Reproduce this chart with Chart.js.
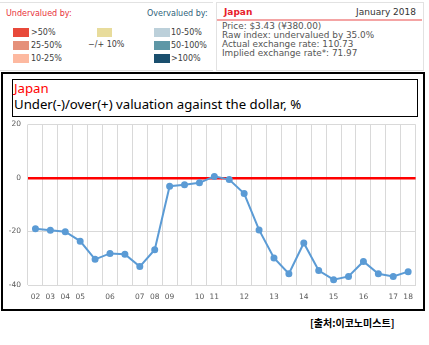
<!DOCTYPE html>
<html>
<head>
<meta charset="utf-8">
<script src="https://cdn.jsdelivr.net/npm/chart.js@4"></script>
<style>
  body { margin: 0; background: #fff; width: 429px; height: 345px; position: relative; overflow: hidden; font-family: "DejaVu Sans", sans-serif; }
  .abs { position: absolute; white-space: nowrap; }
  .sw { position: absolute; width: 16px; height: 9px; }
  .lg { position: absolute; font-size: 8px; color: #404040; line-height: 9px; }
  #legendPanel { left: 0px; top: 2px; width: 213px; height: 67px; border-top: 1px solid #e2e2e2; border-bottom: 1px solid #e2e2e2; }
  #infoPanel { left: 216px; top: 2px; width: 206px; height: 67px; border: 1px solid #e2e2e2; }
  #outer { left: 1px; top: 72px; width: 420px; height: 235px; border: 2px solid #000; }
  #titleBox { left: 12px; top: 79px; width: 404px; height: 36px; border: 1.5px solid #000; }
  #chartWrap { position: absolute; left: 3px; top: 113px; width: 418px; height: 192px; }
</style>
</head>
<body>
<div id="legendPanel" class="abs"></div>
<div class="abs" style="left:6px;top:9px;font-size:8px;color:#e8303a;">Undervalued by:</div>
<div class="abs" style="left:147px;top:9px;font-size:8px;color:#2f5f7a;">Overvalued by:</div>

<div class="sw" style="left:13px;top:28px;background:#e8493a;"></div>
<div class="lg" style="left:31px;top:28px;">&gt;50%</div>
<div class="sw" style="left:13px;top:41px;background:#e5907a;"></div>
<div class="lg" style="left:31px;top:41px;">25-50%</div>
<div class="sw" style="left:13px;top:54px;background:#fdb9a0;"></div>
<div class="lg" style="left:31px;top:54px;">10-25%</div>

<div class="sw" style="left:97px;top:28px;width:15px;background:#e8dc9c;"></div>
<div class="lg" style="left:88px;top:40px;">−/+ 10%</div>

<div class="sw" style="left:154px;top:28px;background:#bcd0da;"></div>
<div class="lg" style="left:171px;top:28px;">10-50%</div>
<div class="sw" style="left:154px;top:41px;background:#5e97a6;"></div>
<div class="lg" style="left:171px;top:41px;">50-100%</div>
<div class="sw" style="left:154px;top:54px;background:#1a4f6e;"></div>
<div class="lg" style="left:171px;top:54px;">&gt;100%</div>

<div id="infoPanel" class="abs"></div>
<div class="abs" style="left:224px;top:7px;font-size:9px;font-weight:bold;color:#e8202a;">Japan</div>
<div class="abs" style="left:320px;top:7px;width:96px;text-align:right;font-size:9px;color:#333;">January 2018</div>
<div class="abs" style="left:217px;top:19px;width:205px;height:2px;background:#f4a4a4;"></div>
<div class="abs" style="left:222px;top:22px;font-size:8.9px;line-height:8.9px;color:#555;">Price: $3.43 (¥380.00)<br>Raw index: undervalued by 35.0%<br>Actual exchange rate: 110.73<br>Implied exchange rate*: 71.97</div>

<div id="outer" class="abs"></div>
<div id="titleBox" class="abs"></div>
<div class="abs" style="left:14px;top:79px;font-family:'Noto Sans',sans-serif;font-size:13.2px;color:#ff0000;">Japan</div>
<div class="abs" style="left:14px;top:95px;font-family:'Noto Sans',sans-serif;font-size:13.2px;color:#000;">Under(-)/over(+) valuation against the dollar, %</div>

<div id="chartWrap"><canvas id="myChart"></canvas></div>

<div class="abs" style="left:310px;top:315px;font-family:'Noto Sans CJK KR',sans-serif;font-size:10px;font-weight:bold;color:#000;">[출처:이코노미스트]</div>

<script>
// categories (half-yearly from 2011, yearly before)
const periods = ['02', '03', '04', '05', '', '06', '', '07', '08', '09', '', '10', '11', '', '12', '', '13', '', '14', '', '15', '', '16', '', '17', '18'];
// raw index, % under(-)/over(+) valued against the dollar
const valuation = [-19.0, -19.5, -20.1, -23.6, -30.4, -28.2, -28.5, -33.1, -26.8, -3.1, -2.5, -1.8, 0.6, -0.6, -5.8, -19.4, -29.9, -35.8, -24.3, -34.6, -38.0, -36.8, -31.2, -35.8, -36.8, -35.0];
const yTicks = [20, 0, -20, -40];

const gridGray = '#d9d9d9';

const config = {
    type: 'line',
    data: {
        labels: periods,
        datasets: [{
            data: valuation,
            borderColor: '#5b9bd5',
            backgroundColor: '#5b9bd5',
            borderWidth: 2,
            pointRadius: 2.5,
            pointHoverRadius: 2.5,
            tension: 0
        }]
    },
    options: {
        responsive: true,
        maintainAspectRatio: false,
        animation: false,
        layout: { padding: { top: 6, right: 2, left: 0, bottom: 0 } },
        plugins: { legend: { display: false }, tooltip: { enabled: false } },
        scales: {
            x: {
                offset: true,
                grid: { offset: true, color: gridGray, drawTicks: false },
                border: { color: gridGray },
                ticks: {
                    autoSkip: false, maxRotation: 0, padding: 8,
                    color: '#595959', font: { family: 'DejaVu Sans', size: 7.5 }
                },
                afterFit: (scale) => { scale.height = 20; }
            },
            y: {
                min: -40, max: 20,
                afterBuildTicks: (scale) => { scale.ticks = yTicks.map(v => ({ value: v })); },
                grid: {
                    drawTicks: false,
                    color: (c) => c.tick && c.tick.value === 0 ? '#ff0000' : gridGray,
                    lineWidth: (c) => c.tick && c.tick.value === 0 ? 2.5 : 1
                },
                border: { display: false },
                ticks: {
                    padding: 7,
                    color: '#595959', font: { family: 'DejaVu Sans', size: 7.5 }
                },
                afterFit: (scale) => { scale.width = 25; }
            }
        }
    }
};

const ctx = document.getElementById('myChart').getContext('2d');
const myChart = new Chart(ctx, config);
</script>
</body>
</html>
